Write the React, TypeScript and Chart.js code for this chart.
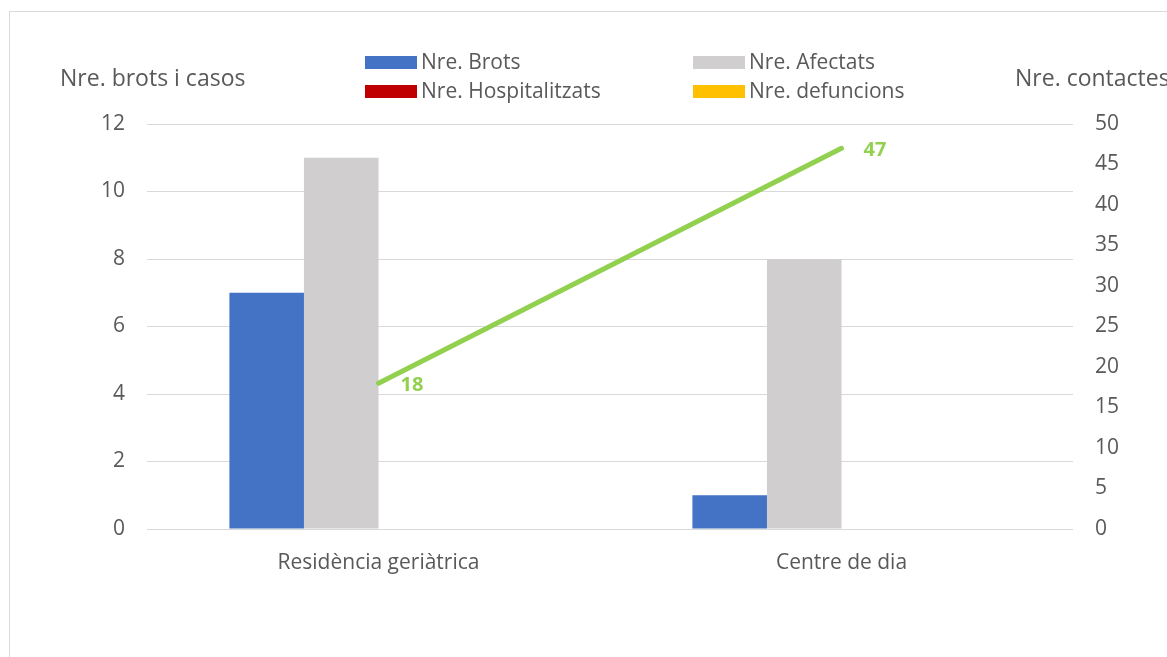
import React, { useEffect, useRef } from 'react';
import { Chart, registerables } from 'chart.js';

Chart.register(...registerables);

const categories = ['Residència geriàtrica', 'Centre de dia'];
const seriesLabels = ['Nre. Brots', 'Nre. Afectats', 'Nre. Hospitalitzats', 'Nre. defuncions'];
const brots = [7, 1];
const afectats = [11, 8];
const hospitalitzats = [0, 0];
const defuncions = [0, 0];
const contactesLabel = 'Nre. contactes';
const contactes = [18, 47];
const leftTitle = 'Nre. brots i casos';
const rightTitle = 'Nre. contactes';

const FONT = '"Open Sans", sans-serif';
const TEXT = '#595959';
const GREEN = '#92D050';

const framePlugin = {
  id: 'frame',
  beforeDraw(chart: any) {
    const ctx = chart.ctx;
    ctx.save();
    ctx.fillStyle = '#ffffff';
    ctx.fillRect(0, 0, chart.width, chart.height);
    ctx.strokeStyle = '#D9D9D9';
    ctx.lineWidth = 1;
    ctx.strokeRect(9.5, 11.5, 3000, 3000);
    ctx.restore();
  },
};

const titlesPlugin = {
  id: 'titles',
  afterDraw(chart: any) {
    const ctx = chart.ctx;
    ctx.save();
    ctx.font = `23px ${FONT}`;
    ctx.fillStyle = TEXT;
    ctx.textBaseline = 'middle';
    ctx.textAlign = 'left';
    ctx.fillText(leftTitle, 60, 79);
    ctx.fillText(rightTitle, 1015, 79);
    // legend
    const boxes = chart.data.datasets.filter((d: any) => d.type !== 'line');
    ctx.font = `21px ${FONT}`;
    boxes.forEach((d: any, i: number) => {
      const col = i % 2;
      const row = Math.floor(i / 2);
      const bx = col === 0 ? 365 : 693;
      const cy = row === 0 ? 62.5 : 91.5;
      ctx.fillStyle = d.backgroundColor;
      ctx.fillRect(bx, cy - 6.5, 52, 13);
      ctx.fillStyle = TEXT;
      ctx.fillText(d.label, bx + 56, cy + 1);
    });
    ctx.restore();
  },
};

const labelsPlugin = {
  id: 'lineLabels',
  afterDatasetsDraw(chart: any) {
    const ctx = chart.ctx;
    chart.data.datasets.forEach((d: any, di: number) => {
      if (d.type !== 'line') return;
      const meta = chart.getDatasetMeta(di);
      ctx.save();
      ctx.font = `bold 20px ${FONT}`;
      ctx.fillStyle = GREEN;
      ctx.textBaseline = 'middle';
      ctx.textAlign = 'left';
      meta.data.forEach((pt: any, i: number) => {
        ctx.fillText(String(d.data[i]), pt.x + 22, pt.y + 2);
      });
      ctx.restore();
    });
  },
};

export default function App() {
  const ref = useRef<HTMLCanvasElement>(null);
  useEffect(() => {
    if (!ref.current) return;
    const barColors = ['#4472C4', '#D0CECE', '#C00000', '#FFC000'];
    const barData = [brots, afectats, hospitalitzats, defuncions];
    const chart = new Chart(ref.current, {
      type: 'bar',
      data: {
        labels: categories,
        datasets: [
          {
            type: 'line',
            label: contactesLabel,
            data: contactes,
            yAxisID: 'y1',
            borderColor: GREEN,
            backgroundColor: GREEN,
            borderWidth: 5,
            borderCapStyle: 'round',
            pointRadius: 0,
            order: 0,
          } as any,
          ...barData.map((arr, i) => ({
            type: 'bar',
            label: seriesLabels[i],
            data: arr,
            backgroundColor: barColors[i],
            yAxisID: 'y',
            barPercentage: 1,
            categoryPercentage: 0.644,
            order: 1,
          })),
        ],
      },
      options: {
        responsive: false,
        animation: false,
        layout: { padding: { left: 0, right: 0, top: 124, bottom: 78 } },
        plugins: { legend: { display: false }, tooltip: { enabled: false } },
        scales: {
          x: {
            grid: { display: false },
            border: { display: false },
            ticks: { color: TEXT, font: { family: FONT, size: 21 }, padding: 13, maxRotation: 0 },
            afterFit: (s: any) => { s.height = 50; },
          },
          y: {
            position: 'left',
            min: 0,
            max: 12,
            ticks: { stepSize: 2, color: TEXT, font: { family: FONT, size: 21 }, padding: 22 },
            grid: { color: '#D9D9D9', lineWidth: 1, drawTicks: false },
            border: { display: false },
            afterFit: (s: any) => { s.width = 147; },
          },
          y1: {
            position: 'right',
            min: 0,
            max: 50,
            ticks: { stepSize: 5, color: TEXT, font: { family: FONT, size: 21 }, padding: 22 },
            grid: { display: false, drawTicks: false },
            border: { display: false },
            afterFit: (s: any) => { s.width = 94; },
          },
        },
      } as any,
      plugins: [framePlugin, titlesPlugin, labelsPlugin],
    });
    return () => chart.destroy();
  }, []);
  return (
    <div style={{ position: 'fixed', left: 0, top: 0, width: 1167, height: 657, overflow: 'hidden', background: '#fff' }}>
      <canvas ref={ref} width={1167} height={657} style={{ display: 'block', width: 1167, height: 657 }} />
    </div>
  );
}
